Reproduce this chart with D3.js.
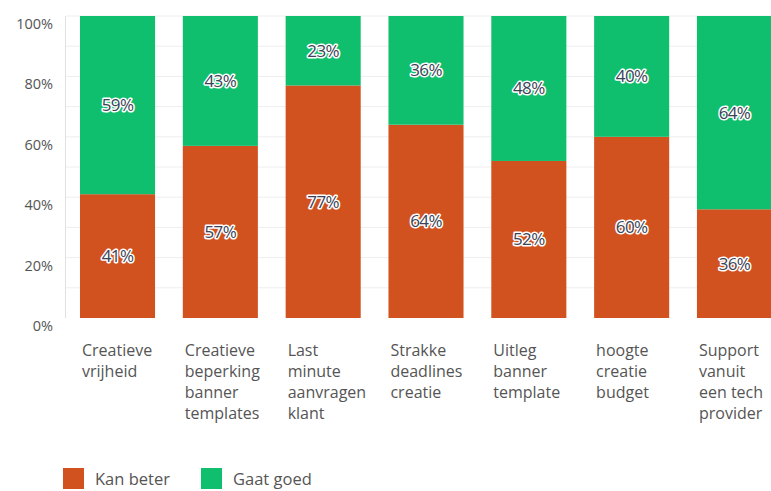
<!DOCTYPE html>
<html>
<head>
<meta charset="utf-8">
<script src="https://cdn.jsdelivr.net/npm/d3@7"></script>
<style>
  html, body { margin: 0; padding: 0; background: #fff; overflow: hidden; }
  svg { display: block; font-family: "Open Sans", "Noto Sans", sans-serif; }
</style>
</head>
<body>
<svg id="chart" width="771" height="491"></svg>
<script>
// Survey categories (multi-line labels) and the two answer shares
const categories = [
  ["Creatieve", "vrijheid"],
  ["Creatieve", "beperking", "banner", "templates"],
  ["Last", "minute", "aanvragen", "klant"],
  ["Strakke", "deadlines", "creatie"],
  ["Uitleg", "banner", "template"],
  ["hoogte", "creatie", "budget"],
  ["Support", "vanuit", "een tech", "provider"]
];
const kanBeter = [41, 57, 77, 64, 52, 60, 36];
const gaatGoed = [59, 43, 23, 36, 48, 40, 64];
const seriesNames = ["Kan beter", "Gaat goed"];
const seriesColors = ["#D2521F", "#0FBF6D"];
const yTicks = [0, 20, 40, 60, 80, 100];

const svg = d3.select("#chart");
const plotLeft = 66, plotTop = 16, plotBottom = 318;
const plotWidth = 720;

const x = d3.scaleBand()
  .domain(d3.range(categories.length))
  .range([plotLeft, plotLeft + plotWidth])
  .paddingInner(0.27)
  .paddingOuter(0.136);

const y = d3.scaleLinear().domain([0, 100]).range([plotBottom, plotTop]);

// light gridlines every 10%
svg.append("g")
  .selectAll("line")
  .data(d3.range(10, 101, 10))
  .join("line")
  .attr("x1", plotLeft).attr("x2", 771)
  .attr("y1", d => y(d)).attr("y2", d => y(d))
  .attr("stroke", "#eeeeee").attr("stroke-width", 1);

// left axis line
svg.append("line")
  .attr("x1", plotLeft - 0.5).attr("x2", plotLeft - 0.5)
  .attr("y1", plotTop).attr("y2", plotBottom)
  .attr("stroke", "#e0e0e0");

// y tick labels
svg.append("g")
  .selectAll("text")
  .data(yTicks)
  .join("text")
  .attr("x", 53)
  .attr("y", d => y(d) + 8)
  .attr("dy", "0.35em")
  .attr("text-anchor", "end")
  .attr("font-size", 14.5)
  .attr("fill", "#555")
  .text(d => d + "%");

// stacked bars
const stacked = categories.map((c, i) => [
  { s: 0, y0: 0, y1: kanBeter[i], v: kanBeter[i], i },
  { s: 1, y0: kanBeter[i], y1: kanBeter[i] + gaatGoed[i], v: gaatGoed[i], i }
]).flat();

svg.append("g")
  .selectAll("rect")
  .data(stacked)
  .join("rect")
  .attr("x", d => x(d.i))
  .attr("width", x.bandwidth())
  .attr("y", d => y(d.y1))
  .attr("height", d => y(d.y0) - y(d.y1))
  .attr("fill", d => seriesColors[d.s]);

// value labels with a white halo
svg.append("g")
  .selectAll("text")
  .data(stacked)
  .join("text")
  .attr("x", d => x(d.i) + x.bandwidth() / 2)
  .attr("y", d => y((d.y0 + d.y1) / 2))
  .attr("dy", "0.35em")
  .attr("text-anchor", "middle")
  .attr("font-size", 17)
  .attr("fill", "#3b4456")
  .attr("stroke", "#ffffff")
  .attr("stroke-width", 3)
  .attr("stroke-linejoin", "round")
  .attr("paint-order", "stroke")
  .attr("letter-spacing", "-0.6px")
  .text(d => d.v + "%");

// category labels
svg.append("g")
  .selectAll("text")
  .data(categories)
  .join("text")
  .attr("x", (d, i) => x(i) + 2)
  .attr("y", 350)
  .attr("font-size", 16)
  .attr("fill", "#555")
  .each(function (lines) {
    const tx = d3.select(this).attr("x");
    d3.select(this).selectAll("tspan")
      .data(lines)
      .join("tspan")
      .attr("x", tx)
      .attr("dy", (l, k) => k === 0 ? "0.35em" : "21px")
      .text(l => l);
  });

// legend
const legend = svg.append("g")
  .selectAll("g")
  .data(seriesNames)
  .join("g")
  .attr("transform", (d, i) => `translate(${63 + i * 138},468)`);
legend.append("rect")
  .attr("width", 21).attr("height", 21)
  .attr("fill", (d, i) => seriesColors[i]);
legend.append("text")
  .attr("x", 32).attr("y", 11)
  .attr("dy", "0.35em")
  .attr("font-size", 16.5)
  .attr("fill", "#555")
  .text(d => d);
</script>
</body>
</html>
